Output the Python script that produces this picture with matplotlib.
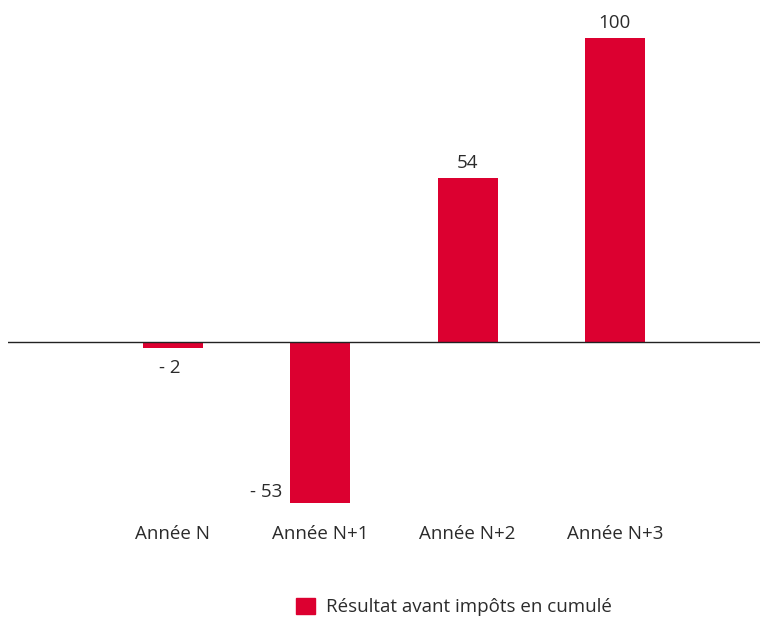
import matplotlib.pyplot as plt
from matplotlib.patches import Patch

plt.rcParams['font.family'] = ['Open Sans', 'DejaVu Sans']

categories = ['Année N', 'Année N+1', 'Année N+2', 'Année N+3']
values = [-2, -53, 54, 100]
labels = ['- 2', '- 53', '54', '100']
series_name = 'Résultat avant impôts en cumulé'

red = '#dc0030'
txt = '#2b2b2b'
fs = 13.5

fig = plt.figure(figsize=(7.6, 6.17), dpi=100)
W, H = 760, 617
# axes box in pixels: left 8, right 760, top 20, bottom 515
ax = fig.add_axes([8 / W, (H - 515) / H, 752 / W, 495 / H])

x = list(range(len(categories)))
ax.bar(x, values, width=0.407, color=red, zorder=2)
ax.axhline(0, color='#222222', lw=1.0, zorder=3)

ax.set_xlim(-1.12, 3.985)
ax.set_ylim(-(515 - 342) / 3.04, (342 - 20) / 3.04)

for i, (v, lab) in enumerate(zip(values, labels)):
    if v >= 0:
        ax.annotate(lab, (i, v), xytext=(0, 4), textcoords='offset points',
                    ha='center', va='bottom', fontsize=fs, color=txt)
    elif v > -10:
        ax.annotate(lab, (i, v), xytext=(-2, -8), textcoords='offset points',
                    ha='center', va='top', fontsize=fs, color=txt)
    else:
        ax.annotate(lab, (i - 0.204, v), xytext=(-6, 8), textcoords='offset points',
                    ha='right', va='center', fontsize=fs, color=txt)

ax.set_xticks(x)
ax.set_xticklabels(categories, fontsize=fs, color=txt)
ax.tick_params(axis='x', length=0, pad=7)
ax.set_yticks([])
for s in ax.spines.values():
    s.set_visible(False)

fig.legend(handles=[Patch(color=red, label=series_name)],
           loc='center', bbox_to_anchor=(454 / W, (H - 607) / H),
           frameon=False, fontsize=fs, handlelength=1.0, handleheight=1.0,
           handletextpad=0.6, labelcolor=txt)

fig.savefig('out.png', dpi=100)
